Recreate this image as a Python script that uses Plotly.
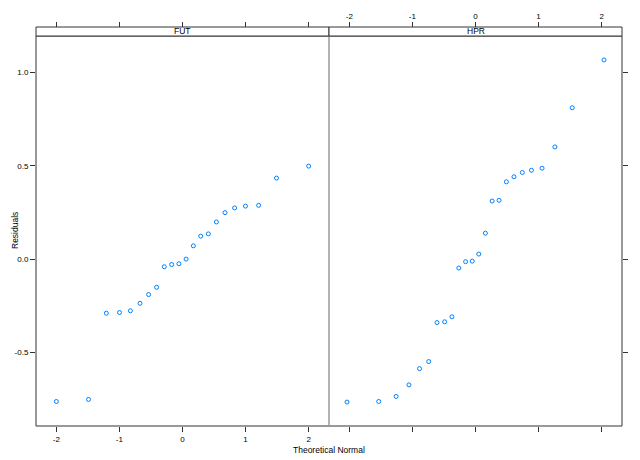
import plotly.graph_objects as go

# ---- data ----
panels = ["FUT", "HPR"]

fut_theoretical = [-2.000, -1.490, -1.207, -0.998, -0.826, -0.674, -0.537, -0.410, -0.289, -0.172, -0.057,
                   0.057, 0.172, 0.289, 0.410, 0.537, 0.674, 0.826, 0.998, 1.207, 1.490, 2.000]
fut_resid = [-0.762, -0.751, -0.289, -0.285, -0.276, -0.236, -0.189, -0.150, -0.040, -0.028, -0.024,
             0.001, 0.072, 0.124, 0.136, 0.200, 0.250, 0.275, 0.285, 0.289, 0.435, 0.499]

hpr_theoretical = [-2.037, -1.534, -1.258, -1.055, -0.887, -0.742, -0.610, -0.489, -0.374, -0.264, -0.157, -0.052,
                   0.052, 0.157, 0.264, 0.374, 0.489, 0.610, 0.742, 0.887, 1.055, 1.258, 1.534, 2.037]
hpr_resid = [-0.765, -0.762, -0.735, -0.673, -0.586, -0.548, -0.339, -0.335, -0.308, -0.047, -0.013, -0.010,
             0.028, 0.140, 0.312, 0.316, 0.415, 0.442, 0.465, 0.477, 0.488, 0.602, 0.812, 1.068]

x_ticks = [-2, -1, 0, 1, 2]
x_ticktext = ["-2", "-1", "0", "1", "2"]
y_ticks = [-0.5, 0.0, 0.5, 1.0]
y_ticktext = ["-0.5", "0.0", "0.5", "1.0"]

x_title = "Theoretical Normal"
y_title = "Residuals"

# ---- layout geometry (page has an 8px body margin) ----
W, H = 640, 460
OFF = 8
ml, mr, mt, mb = 36 - OFF, 18 + OFF, 27 - OFF, 34 + OFF
plot_w = W - ml - mr          # 586
plot_h = H - mt - mb          # 399
strip_h = 9
ydom_top = (plot_h - strip_h) / plot_h

all_x = fut_theoretical + hpr_theoretical
all_y = fut_resid + hpr_resid
xr = max(all_x) - min(all_x)
yr = max(all_y) - min(all_y)
XR = [min(all_x) - 0.07 * xr, max(all_x) + 0.07 * xr]
YR = [min(all_y) - 0.07 * yr, max(all_y) + 0.07 * yr]

FONT = "Liberation Sans, Arial, sans-serif"
PT_COLOR = "#0080ff"
AX_COLOR = "#333333"

fig = go.Figure()
marker = dict(symbol="circle-open", size=4, color=PT_COLOR, line=dict(width=1, color=PT_COLOR))
fig.add_trace(go.Scatter(x=fut_theoretical, y=fut_resid, mode="markers", marker=marker,
                         xaxis="x", yaxis="y", showlegend=False, hoverinfo="x+y"))
fig.add_trace(go.Scatter(x=hpr_theoretical, y=hpr_resid, mode="markers", marker=marker,
                         xaxis="x2", yaxis="y", showlegend=False, hoverinfo="x+y"))
# placeholder traces so the extra tick axes are drawn
fig.add_trace(go.Scatter(x=[None], y=[None], xaxis="x3", yaxis="y", showlegend=False, hoverinfo="skip"))
fig.add_trace(go.Scatter(x=[None], y=[None], xaxis="x4", yaxis="y", showlegend=False, hoverinfo="skip"))
fig.add_trace(go.Scatter(x=[None], y=[None], xaxis="x2", yaxis="y2", showlegend=False, hoverinfo="skip"))

tickfont = dict(family=FONT, size=8, color="#000000")
common_x = dict(range=XR, tickvals=x_ticks, ticktext=x_ticktext, ticks="outside", ticklen=5,
                tickwidth=1, tickcolor=AX_COLOR, showgrid=False, zeroline=False, showline=False,
                tickfont=tickfont, fixedrange=True, automargin=False)
common_y = dict(range=YR, tickvals=y_ticks, ticktext=y_ticktext, ticks="outside", ticklen=5,
                tickwidth=1, tickcolor=AX_COLOR, showgrid=False, zeroline=False, showline=False,
                tickfont=tickfont, fixedrange=True, automargin=False)

fig.update_layout(
    width=W, height=H,
    margin=dict(l=ml, r=mr, t=mt, b=mb, pad=0, autoexpand=False),
    paper_bgcolor="white", plot_bgcolor="white",
    font=dict(family=FONT, size=8, color="#000000"),
    xaxis=dict(domain=[0, 0.5], anchor="y", side="bottom", showticklabels=True, **common_x),
    xaxis2=dict(domain=[0.5, 1], anchor="y", side="bottom", showticklabels=False, **common_x),
    xaxis3=dict(overlaying="x", anchor="free", position=1, side="top", showticklabels=False, **common_x),
    xaxis4=dict(overlaying="x2", anchor="free", position=1, side="top", showticklabels=True, **common_x),
    yaxis=dict(domain=[0, ydom_top], anchor="x", side="left", showticklabels=True, **common_y),
    yaxis2=dict(overlaying="y", anchor="x2", side="right", showticklabels=False, **common_y),
)

shapes = []
# panel borders
shapes.append(dict(type="rect", xref="paper", yref="paper", x0=0, x1=1, y0=0, y1=ydom_top,
                   line=dict(color=AX_COLOR, width=1), fillcolor="rgba(0,0,0,0)", layer="above"))
shapes.append(dict(type="line", xref="paper", yref="paper", x0=0.5, x1=0.5, y0=0, y1=ydom_top,
                   line=dict(color="#9a9a9a", width=1.5), layer="above"))
# strips
for i, name in enumerate(panels):
    x0, x1 = 0.5 * i, 0.5 * (i + 1)
    shapes.append(dict(type="rect", xref="paper", yref="paper", x0=x0, x1=x1, y0=ydom_top, y1=1,
                       line=dict(color=AX_COLOR, width=1), fillcolor="white", layer="above"))
fig.update_layout(shapes=shapes)

annotations = []
for i, name in enumerate(panels):
    annotations.append(dict(text=name, xref="paper", yref="paper", x=0.25 + 0.5 * i,
                            y=(ydom_top + 1) / 2, xanchor="center", yanchor="middle",
                            showarrow=False, font=dict(family=FONT, size=8.5, color="#000000")))
annotations.append(dict(text=x_title, xref="paper", yref="paper", x=0.5, y=-24 / plot_h,
                        xanchor="center", yanchor="middle", showarrow=False,
                        font=dict(family=FONT, size=8.5, color="#000000")))
annotations.append(dict(text=y_title, xref="paper", yref="paper", x=(9 - 36) / plot_w,
                        y=ydom_top / 2, xanchor="left", yanchor="middle", textangle=-90,
                        showarrow=False, borderpad=0,
                        font=dict(family=FONT, size=8.5, color="#000000")))
fig.update_layout(annotations=annotations)

fig.write_html("out.html")
